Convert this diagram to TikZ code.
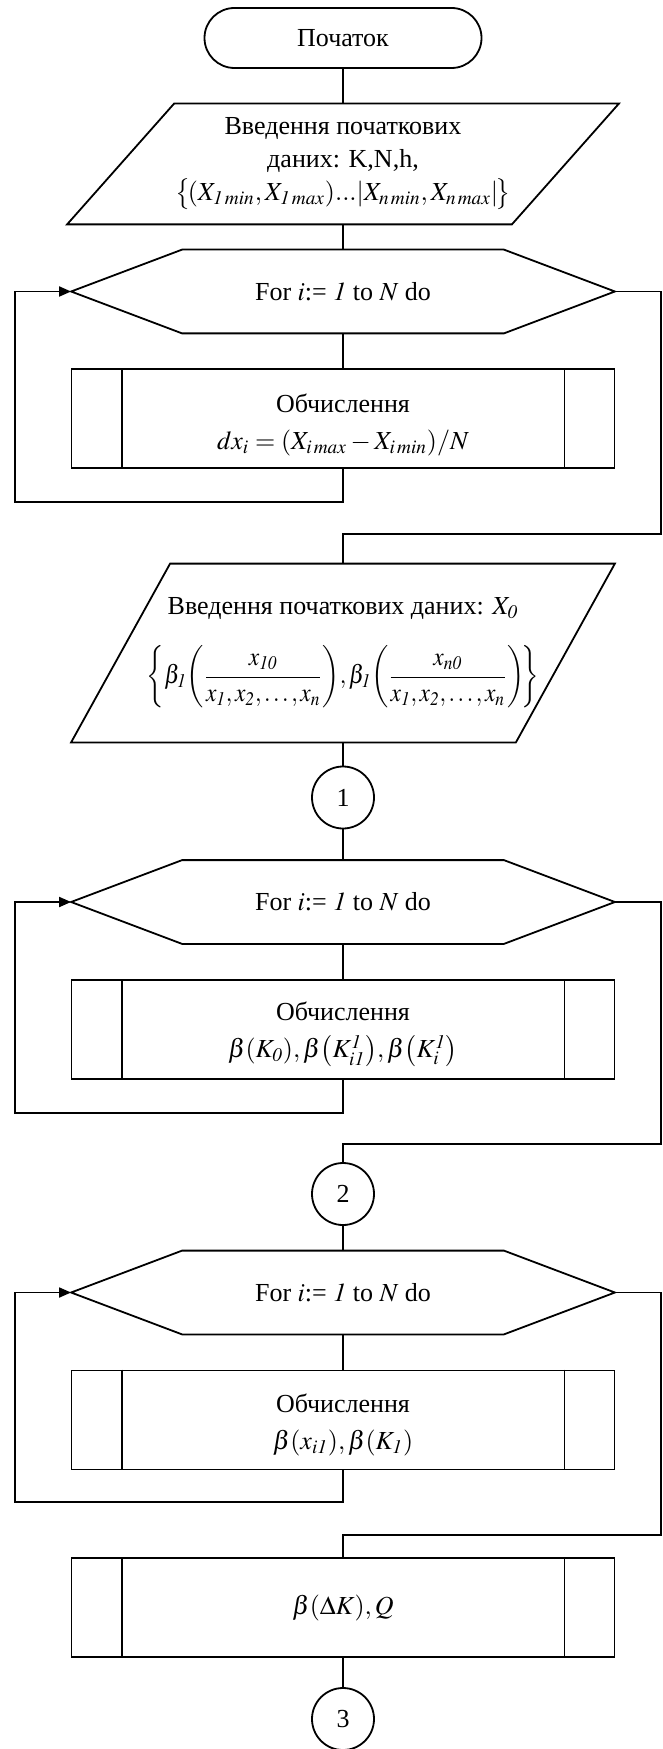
\documentclass[tikz,border=0pt]{standalone}
\usepackage{amsmath}
\usepackage{mathptmx}
\usepackage{fontspec}
\setmainfont{Liberation Serif}
\usepackage{tikz}
\usetikzlibrary{arrows.meta,calc}

\begin{document}
\begin{tikzpicture}[
  x=0.5pt, y=-0.5pt,
  font=\fontsize{13}{16.5}\selectfont,
  ln/.style={line width=0.9pt, draw=black},
  fl/.style={ln, -{Triangle[length=6pt,width=5pt]}},
  term/.style={ln, rounded corners=15pt, minimum width=138.5pt, minimum height=30pt, inner sep=0pt},
  io/.style={align=center, inner sep=0pt, minimum width=222pt,
    append after command={\pgfextra{\let\curnode\tikzlastnode
      \draw[ln] ([xshift=-#1*0.25pt]\curnode.south west) -- ([xshift=#1*0.25pt]\curnode.north west)
        -- ([xshift=#1*0.25pt]\curnode.north east) -- ([xshift=-#1*0.25pt]\curnode.south east) -- cycle;}}},
  loopbox/.style={inner sep=0pt, minimum width=271.5pt, minimum height=41.5pt,
    append after command={\pgfextra{\let\curnode\tikzlastnode
      \draw[ln] (\curnode.west) -- ([xshift=55.5pt]\curnode.north west) -- ([xshift=-55.5pt]\curnode.north east)
        -- (\curnode.east) -- ([xshift=-55.5pt]\curnode.south east) -- ([xshift=55.5pt]\curnode.south west) -- cycle;}}},
  proc/.style={ln, align=center, inner sep=0pt, minimum width=271.5pt, minimum height=49.5pt,
    append after command={\pgfextra{\let\curnode\tikzlastnode
      \draw[ln] ([xshift=25.5pt]\curnode.north west) -- ([xshift=25.5pt]\curnode.south west);
      \draw[ln] ([xshift=-25.5pt]\curnode.north east) -- ([xshift=-25.5pt]\curnode.south east);}}},
  conn/.style={ln, circle, minimum size=31pt, inner sep=0pt},
]
\useasboundingbox (0,0) rectangle (663,1749);

\node[term] (start) at (343,38) {Початок};
\node[io=107, minimum height=60pt] (in1) at (343,164)
  {Введення початкових\\даних: K,N,h,\\
   $\bigl\{\!\left(X_{\mathit{1\,min}},X_{\mathit{1\,max}}\right)\!...\!\left|X_{\mathit{n\,min}},X_{\mathit{n\,max}}\right|\!\bigr\}$};
\node[loopbox] (for1) at (343,291.5) {For $i$:= $\mathit{1}$ to $N$ do};
\node[proc] (calc1) at (343,418.5)
  {\rule{0pt}{16pt}Обчислення\\[2pt]$dx_i=\left(X_{\mathit{i\,max}}-X_{\mathit{i\,min}}\right)\!/N$};

\node[io=99, minimum height=89pt] (in2) at (343,653)
  {Введення початкових даних: $X_{\mathit{0}}$\\[12pt]
   \scalebox{0.9}[1]{$\biggl\{\beta_{\mathit{1}}\!\left(\dfrac{x_{\mathit{10}}}{x_{\mathit{1}},x_{\mathit{2}},\ldots,x_n}\right)\!,
   \beta_{\mathit{1}}\!\left(\dfrac{x_{\mathit{n0}}}{x_{\mathit{1}},x_{\mathit{2}},\ldots,x_n}\right)\!\biggr\}$}};
\node[conn] (c1) at (343,797.5) {1};
\node[loopbox] (for2) at (343,902) {For $i$:= $\mathit{1}$ to $N$ do};
\node[proc] (calc2) at (343,1029.5)
  {\rule{0pt}{14pt}Обчислення\\[2pt]$\beta\!\left(K_{\mathit{0}}\right)\!,\beta\!\left(K^{\mathit{1}}_{\mathit{i1}}\right)\!,\beta\!\left(K^{\mathit{1}}_{i}\right)$};

\node[conn] (c2) at (343,1194) {2};
\node[loopbox] (for3) at (343,1292.5) {For $i$:= $\mathit{1}$ to $N$ do};
\node[proc] (calc3) at (343,1420)
  {\rule{0pt}{14pt}Обчислення\\[2pt]$\beta\!\left(x_{\mathit{i1}}\right)\!,\beta\!\left(K_{\mathit{1}}\right)$};

\node[proc] (calc4) at (343,1607.5) {\raisebox{-2pt}{$\beta\!\left(\Delta K\right)\!,Q$}};
\node[conn] (c3) at (343,1719) {3};

% loop returns and exits
\coordinate (lb1) at (15,502);
\coordinate (lb2) at (15,1113);
\coordinate (lb3) at (15,1502);
\coordinate (rb1) at (661,534);
\coordinate (rb2) at (661,1144);
\coordinate (rb3) at (661,1535);

\draw[ln] (start) -- (in1);
\draw[ln] (in1) -- (for1);
\draw[ln] (for1) -- (calc1);
\draw[fl] (calc1.south) |- (lb1) |- (for1.west);
\draw[ln] (for1.east) -| (rb1) -| (in2.north);
\draw[ln] (in2) -- (c1);
\draw[ln] (c1) -- (for2);
\draw[ln] (for2) -- (calc2);
\draw[fl] (calc2.south) |- (lb2) |- (for2.west);
\draw[ln] (for2.east) -| (rb2) -| (c2.north);
\draw[ln] (c2) -- (for3);
\draw[ln] (for3) -- (calc3);
\draw[fl] (calc3.south) |- (lb3) |- (for3.west);
\draw[ln] (for3.east) -| (rb3) -| (calc4.north);
\draw[ln] (calc4) -- (c3);
\end{tikzpicture}
\end{document}
